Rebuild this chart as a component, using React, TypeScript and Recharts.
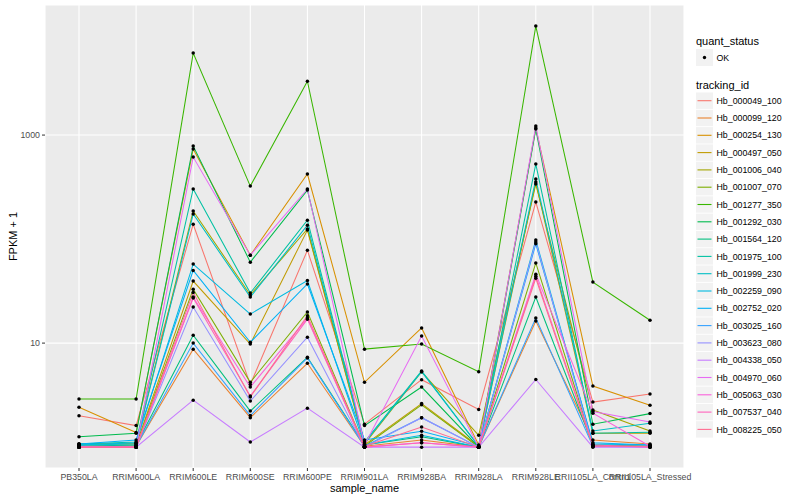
import React from 'react';
import { LineChart, Line, XAxis, YAxis, CartesianGrid, Legend } from 'recharts';

const categories = [
  'PB350LA', 'RRIM600LA', 'RRIM600LE', 'RRIM600SE', 'RRIM600PE', 'RRIM901LA',
  'RRIM928BA', 'RRIM928LA', 'RRIM928LE', 'RRII105LA_Control', 'RRII105LA_Stressed',
];

const trackingIds = [
  'Hb_000049_100', 'Hb_000099_120', 'Hb_000254_130', 'Hb_000497_050', 'Hb_001006_040',
  'Hb_001007_070', 'Hb_001277_350', 'Hb_001292_030', 'Hb_001564_120', 'Hb_001975_100',
  'Hb_001999_230', 'Hb_002259_090', 'Hb_002752_020', 'Hb_003025_160', 'Hb_003623_080',
  'Hb_004338_050', 'Hb_004970_060', 'Hb_005063_030', 'Hb_007537_040', 'Hb_008225_050',
];

const seriesColors = [
  '#F8766D', '#EA8331', '#D89000', '#C09B00', '#A3A500', '#7CAE00', '#39B600', '#00BB4E',
  '#00BF7D', '#00C1A3', '#00BFC4', '#00BAE0', '#00B0F6', '#35A2FF', '#9590FF', '#C77CFF',
  '#E76BF3', '#FA62DB', '#FF62BC', '#FF6C91',
];

// FPKM + 1 values, one per sample in `categories` order
const hb000049_100 = [2.0, 1.61, 139, 4.0, 78, 1.66, 4.45, 2.3, 227, 2.71, 3.24];
const hb000099_120 = [1.0, 1.02, 8.75, 1.92, 6.4, 1.02, 1.17, 1.0, 16.3, 1.17, 1.07];
const hb000254_130 = [2.42, 1.38, 733, 70, 422, 4.2, 14, 1.05, 1168, 3.86, 2.53];
const hb000497_050 = [1.05, 1.05, 39.5, 9.8, 122, 1.05, 2.62, 1.02, 353, 1.36, 1.36];
const hb001006_040 = [1.07, 1.09, 186, 29, 125, 1.07, 5.3, 1.3, 338, 2.27, 1.43];
const hb001007_070 = [1.02, 1.02, 33, 4.2, 19.9, 1.02, 2.55, 1.0, 59, 1.05, 1.02];
const hb001277_350 = [2.9, 2.9, 6140, 323, 3300, 8.75, 9.8, 5.3, 11170, 38.6, 16.6];
const hb001292_030 = [1.26, 1.36, 783, 60, 296, 1.61, 3.78, 1.0, 1142, 1.66, 2.1];
const hb001564_120 = [1.02, 1.05, 11.9, 2.22, 7.3, 1.05, 1.26, 1.0, 27.7, 1.05, 1.02];
const hb001975_100 = [1.07, 1.12, 303, 30.3, 152, 1.12, 5.4, 1.02, 526, 1.36, 1.39];
const hb001999_230 = [1.05, 1.07, 174, 27.7, 136, 1.1, 5.3, 1.02, 378, 1.43, 1.7];
const hb002259_090 = [1.05, 1.1, 57.5, 19, 40, 1.05, 1.3, 1.0, 98, 1.07, 1.05];
const hb002752_020 = [1.07, 1.17, 50, 10.2, 37, 1.17, 1.42, 1.02, 90, 1.1, 1.05];
const hb003025_160 = [1.02, 1.02, 10, 2.01, 7.2, 1.02, 1.92, 1.0, 17.4, 1.02, 1.02];
const hb003623_080 = [1.0, 1.0, 22.2, 2.77, 11.4, 1.0, 1.92, 1.0, 94, 1.02, 1.0];
const hb004338_050 = [1.0, 1.0, 2.83, 1.12, 2.37, 1.0, 1.0, 1.0, 4.47, 1.0, 1.0];
const hb004970_060 = [1.0, 1.0, 614, 70, 303, 1.05, 11.7, 1.0, 1220, 2.2, 1.74];
const hb005063_030 = [1.0, 1.0, 27.7, 3.78, 17.4, 1.0, 1.1, 1.0, 46, 2.12, 1.02];
const hb007537_040 = [1.0, 1.0, 27.1, 3.1, 17, 1.0, 1.1, 1.0, 44, 1.05, 1.0];
const hb008225_050 = [1.0, 1.0, 30.7, 3.03, 18.3, 1.02, 1.56, 1.0, 42, 1.02, 1.02];

const seriesValues = [
  hb000049_100, hb000099_120, hb000254_130, hb000497_050, hb001006_040,
  hb001007_070, hb001277_350, hb001292_030, hb001564_120, hb001975_100,
  hb001999_230, hb002259_090, hb002752_020, hb003025_160, hb003623_080,
  hb004338_050, hb004970_060, hb005063_030, hb007537_040, hb008225_050,
];

const yMajorTicks = [10, 1000];
const yMinorTicks = [1, 100, 10000];
const yDomain = [0.63, 17800];

const data = categories.map((c, i) => {
  const row: Record<string, any> = { sample_name: c };
  trackingIds.forEach((id, s) => {
    row[id] = seriesValues[s][i];
  });
  return row;
});

const FONT = '"Liberation Sans", Arial, Helvetica, sans-serif';

const minorGridGenerator = (props: any) => {
  const axis = props && props.yAxis;
  const scale = axis && axis.scale;
  if (typeof scale !== 'function') return [];
  return yMinorTicks.map((v) => scale(v)).filter((p: any) => typeof p === 'number' && isFinite(p));
};

const LegendContent = () => {
  const rowH = 17.3;
  const firstCenter = 80.7;
  return (
    <svg width={116} height={460} style={{ display: 'block', fontFamily: FONT }}>
      <text x={12} y={24.5} fontSize={11} fill="#000">quant_status</text>
      <rect x={12} y={29} width={17} height={17} fill="#F2F2F2" />
      <circle cx={20.5} cy={37.5} r={1.7} fill="#000" />
      <text x={32.5} y={40.7} fontSize={8.8} fill="#000">OK</text>
      <text x={12} y={68.5} fontSize={11} fill="#000">tracking_id</text>
      {trackingIds.map((id, i) => {
        const cy = firstCenter + i * rowH;
        return (
          <g key={id}>
            <rect x={12} y={cy - 8.2} width={17} height={16.4} fill="#F2F2F2" />
            <line x1={13.5} x2={27.5} y1={cy} y2={cy} stroke={seriesColors[i]} strokeWidth={1.1} />
            <text x={32.5} y={cy + 3.1} fontSize={8.8} fill="#000">{id}</text>
          </g>
        );
      })}
    </svg>
  );
};

const YTitle = (props: any) => {
  const vb = props.viewBox || {};
  const cx = 13;
  const cy = (vb.y ?? 0) + (vb.height ?? 0) / 2;
  return (
    <text x={cx} y={cy} transform={`rotate(-90 ${cx} ${cy})`} textAnchor="middle"
      dominantBaseline="central" fontSize={11} fill="#000" fontFamily={FONT}>
      FPKM + 1
    </text>
  );
};

const XTitle = (props: any) => {
  const vb = props.viewBox || {};
  const cx = (vb.x ?? 0) + (vb.width ?? 0) / 2;
  const cy = (vb.y ?? 0) + 19.5;
  return (
    <text x={cx} y={cy} textAnchor="middle" dominantBaseline="central" fontSize={11}
      fill="#000" fontFamily={FONT}>
      sample_name
    </text>
  );
};

export default function App() {
  return (
    <div style={{ position: 'absolute', left: 0, top: 0, width: 800, height: 500, background: '#fff', fontFamily: FONT }}>
      <LineChart width={800} height={500} data={data} margin={{ top: 5, right: 0, bottom: 0, left: 0 }}>
        <CartesianGrid fill="#EBEBEB" stroke="#FFFFFF" strokeWidth={1.07} strokeDasharray="" />
        <CartesianGrid
          stroke="#FFFFFF"
          strokeWidth={0.6}
          vertical={false}
          strokeDasharray=""
          horizontalCoordinatesGenerator={minorGridGenerator}
        />
        <XAxis
          dataKey="sample_name"
          interval={0}
          padding={{ left: 34, right: 34 }}
          height={32}
          axisLine={false}
          tickSize={3}
          tickMargin={3}
          tickLine={{ stroke: '#333333' }}
          tick={{ fontSize: 8.8, fill: '#4D4D4D', fontFamily: FONT }}
          label={<XTitle />}
        />
        <YAxis
          type="number"
          scale="log"
          domain={yDomain}
          allowDataOverflow
          ticks={yMajorTicks}
          width={45}
          axisLine={false}
          tickSize={3}
          tickMargin={2}
          tickLine={{ stroke: '#333333' }}
          tick={{ fontSize: 8.8, fill: '#4D4D4D', fontFamily: FONT }}
          label={<YTitle />}
        />
        <Legend
          layout="vertical"
          align="right"
          verticalAlign="top"
          content={<LegendContent />}
          wrapperStyle={{ top: 20, right: 0, width: 116, height: 460 }}
        />
        {trackingIds.map((id, i) => (
          <Line
            key={id}
            dataKey={id}
            type="linear"
            stroke={seriesColors[i]}
            strokeWidth={1.05}
            dot={false}
            activeDot={false}
            isAnimationActive={false}
          />
        ))}
        {trackingIds.map((id) => (
          <Line
            key={id + '_pts'}
            dataKey={id}
            type="linear"
            stroke="none"
            strokeOpacity={0}
            legendType="none"
            dot={{ r: 1.75, fill: '#000', stroke: 'none' }}
            activeDot={false}
            isAnimationActive={false}
          />
        ))}
      </LineChart>
    </div>
  );
}
